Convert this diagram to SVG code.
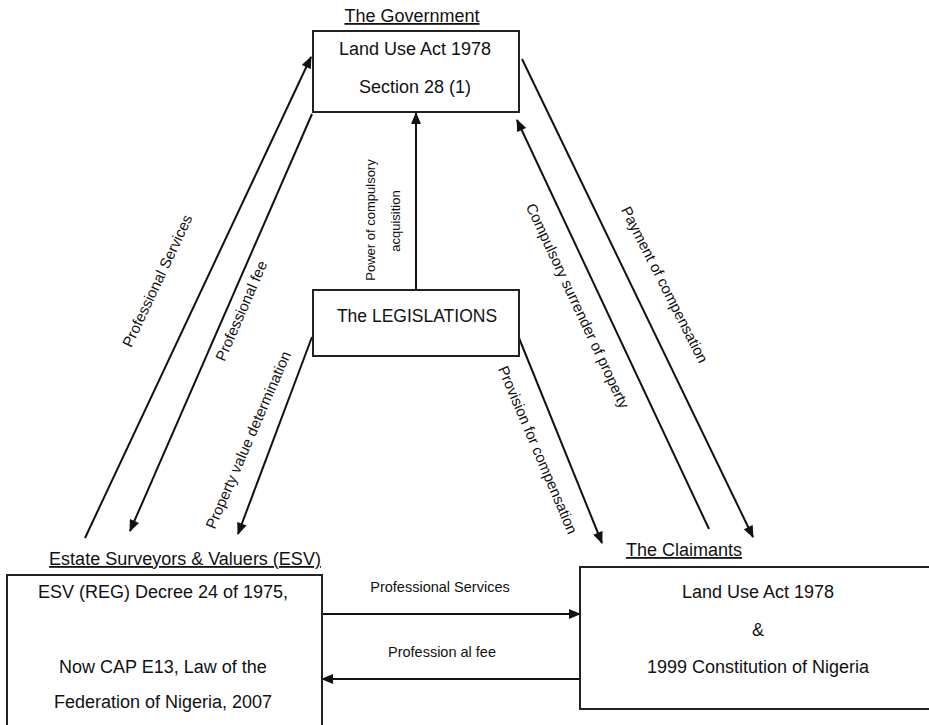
<svg xmlns="http://www.w3.org/2000/svg" width="929" height="725" viewBox="0 0 929 725">
<style>
text{font-family:"Liberation Sans",Arial,sans-serif;fill:#111}
.t{font-size:18px;text-anchor:middle}
.h{font-size:18px;text-anchor:middle;text-decoration:underline}
.l{font-size:15px;text-anchor:middle}
.p{font-size:13px;text-anchor:middle}
.m{font-size:14.5px;text-anchor:middle}
.box{fill:#fff;stroke:#222;stroke-width:2}
.c{stroke:#111;stroke-width:2;fill:none}
</style>
<defs>
<marker id="ah" viewBox="0 0 12 10" refX="11" refY="5" markerWidth="13" markerHeight="10" markerUnits="userSpaceOnUse" orient="auto">
<path d="M0,0 L12,5 L0,10 z" fill="#111"/>
</marker>
</defs>
<rect width="929" height="725" fill="#fff"/>
<g id="connectors">
<line class="c" x1="416" y1="290" x2="416" y2="113" marker-end="url(#ah)"/>
<line class="c" x1="85" y1="538" x2="311" y2="57" marker-end="url(#ah)"/>
<line class="c" x1="312" y1="114" x2="130" y2="531" marker-end="url(#ah)"/>
<line class="c" x1="312" y1="337" x2="238" y2="534" marker-end="url(#ah)"/>
<line class="c" x1="519" y1="338" x2="602" y2="543" marker-end="url(#ah)"/>
<line class="c" x1="709" y1="529" x2="517" y2="120" marker-end="url(#ah)"/>
<line class="c" x1="522" y1="59" x2="753" y2="537" marker-end="url(#ah)"/>
<line class="c" x1="322" y1="614" x2="580" y2="614" marker-end="url(#ah)"/>
<line class="c" x1="580" y1="679" x2="322" y2="679" marker-end="url(#ah)"/>
<text class="l" transform="translate(162,283) rotate(-64.8)">Professional Services</text>
<text class="l" transform="translate(246,313) rotate(-66.4)">Professional fee</text>
<text class="l" transform="translate(253,442) rotate(-66.5)">Property value determination</text>
<text class="p" transform="translate(375,220) rotate(-90)">Power of compulsory</text>
<text class="p" transform="translate(400,221) rotate(-90)">acquisition</text>
<text class="l" transform="translate(533,452) rotate(67)">Provision for compensation</text>
<text class="l" transform="translate(573,308) rotate(65)">Compulsory surrender of property</text>
<text class="l" transform="translate(660,287) rotate(63)">Payment of compensation</text>
<text class="m" x="440" y="592">Professional Services</text>
<text class="m" x="442" y="657">Profession al fee</text>
</g>
<g id="government">
<text class="h" x="412" y="22">The Government</text>
<rect class="box" x="313" y="31" width="206" height="81"/>
<text class="t" x="415" y="55">Land Use Act 1978</text>
<text class="t" x="415" y="93">Section 28 (1)</text>
</g>
<g id="legislations">
<rect class="box" x="313" y="290" width="206" height="66"/>
<text class="t" x="417" y="322" style="font-size:17.5px">The LEGISLATIONS</text>
</g>
<g id="esv">
<text class="h" x="185" y="565">Estate Surveyors &amp; Valuers (ESV)</text>
<rect class="box" x="7" y="575" width="315" height="170"/>
<text class="t" x="163" y="598">ESV (REG) Decree 24 of 1975,</text>
<text class="t" x="163" y="673">Now CAP E13, Law of the</text>
<text class="t" x="163" y="708">Federation of Nigeria, 2007</text>
</g>
<g id="claimants">
<text class="h" x="684" y="556">The Claimants</text>
<rect class="box" x="580" y="567" width="360" height="142"/>
<text class="t" x="758" y="598">Land Use Act 1978</text>
<text class="t" x="758" y="636">&amp;</text>
<text class="t" x="758" y="673">1999 Constitution of Nigeria</text>
</g>
</svg>
